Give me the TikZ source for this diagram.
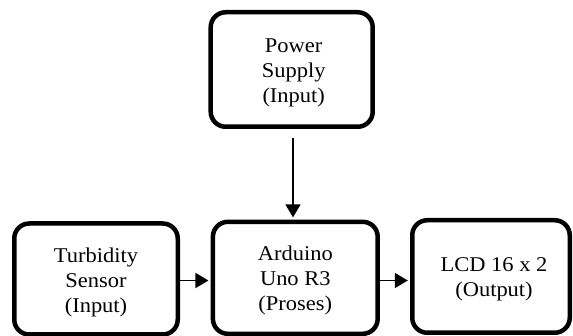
\documentclass[tikz,border=0pt]{standalone}
\usepackage{fontspec}
\setmainfont{Liberation Serif}[FakeStretch=1.07]
\usetikzlibrary{arrows.meta}
\tikzset{
  blockbox/.style={draw=black, line width=4.5pt, rounded corners=15pt, fill=white, inner sep=0pt},
  blocktext/.style={align=center, inner sep=0pt, font=\fontsize{21}{25}\selectfont},
  arr/.style={draw=black, line width=1.6pt, -{Triangle[length=13pt,width=15pt]}, shorten >=2.2pt}
}
\begin{document}
\begin{tikzpicture}[x=1pt,y=-1pt]
\useasboundingbox (0,0) rectangle (573,336);
\node[blockbox, minimum width=162pt, minimum height=114.5pt] (power) at (291.7,69.5) {};
\node[blockbox, minimum width=163.5pt, minimum height=111pt] (turb) at (96,279) {};
\node[blockbox, minimum width=164.8pt, minimum height=112pt] (ard) at (295.3,277.8) {};
\node[blockbox, minimum width=157.5pt, minimum height=112.5pt] (lcd) at (491,276.5) {};
\node[blocktext] (powert) at ([xshift=2pt,yshift=-3pt]power.center) {Power\\Supply\\(Input)};
\node[blocktext] (turbt) at ([yshift=-3pt]turb.center) {Turbidity\\Sensor\\(Input)};
\node[blocktext] (ardt) at ([yshift=-3pt]ard.center) {Arduino\\Uno R3\\(Proses)};
\node[blocktext] (lcdt) at ([xshift=3pt,yshift=-3pt]lcd.center) {LCD 16 x 2\\(Output)};
\coordinate (hy) at (0,280.5);
\draw[arr] ([xshift=1.3pt,yshift=-9pt]power.south) -- ([xshift=1.3pt]power.south |- ard.north);
\draw[arr] (turb.east |- hy) -- (ard.west |- hy);
\draw[arr] (ard.east |- hy) -- (lcd.west |- hy);
\end{tikzpicture}
\end{document}
